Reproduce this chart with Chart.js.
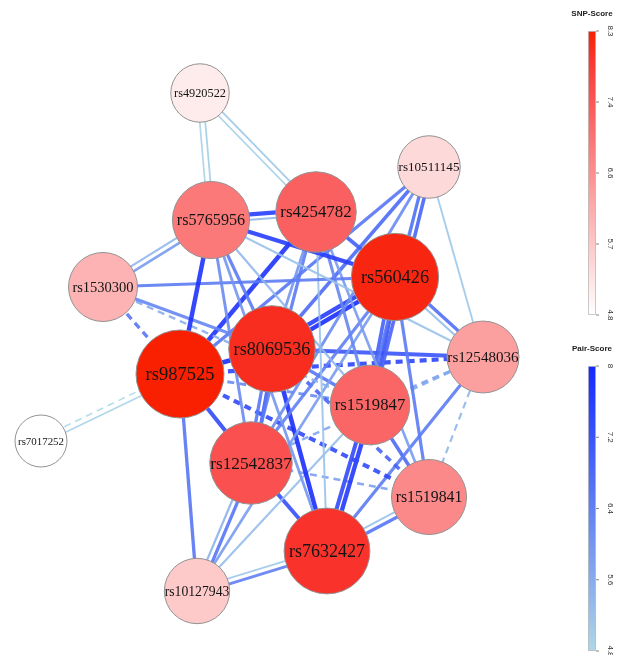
<!DOCTYPE html>
<html><head><meta charset="utf-8">
<script src="https://cdn.jsdelivr.net/npm/chart.js@4.4.1/dist/chart.umd.min.js"></script>
<style>
html,body{margin:0;padding:0;background:#fff;}
#wrap{position:relative;width:620px;height:655px;overflow:hidden;}
#main{position:absolute;left:0;top:0;}
#snp{position:absolute;left:560px;top:0;}
#pair{position:absolute;left:560px;top:330px;}
</style></head><body>
<div id="wrap">
<canvas id="main" width="620" height="655"></canvas>
<canvas id="snp" width="60" height="330"></canvas>
<canvas id="pair" width="60" height="325"></canvas>
</div>
<script>
// ---- nodes (SNPs) ----
const snps     = ['rs4920522','rs5765956','rs4254782','rs10511145','rs1530300','rs560426','rs8069536','rs987525','rs12548036','rs1519847','rs7017252','rs12542837','rs1519841','rs7632427','rs10127943'];
const layoutX  = [200, 211, 316, 429, 103, 395, 272, 180, 483, 370,  41, 251, 429, 327, 197];
const layoutY  = [ 93, 220, 212, 167, 287, 277, 349, 374, 357, 405, 441, 463, 497, 551, 591];
const snpScore = [5.1, 6.9, 7.3, 5.4, 6.0, 8.2, 8.1, 8.3, 6.3, 7.2, 4.8, 7.55, 6.65, 8.0, 5.65];

// ---- edges (SNP pairs) ----
const edgeFrom = ['rs4920522','rs4920522','rs4920522','rs4920522','rs5765956','rs5765956','rs5765956','rs5765956','rs5765956','rs5765956','rs5765956','rs5765956','rs5765956','rs5765956','rs5765956',
 'rs1530300','rs1530300','rs1530300','rs1530300',
 'rs4254782','rs4254782','rs4254782','rs4254782','rs4254782','rs4254782','rs4254782',
 'rs10511145','rs10511145','rs10511145','rs10511145','rs10511145','rs10511145','rs10511145',
 'rs560426','rs560426','rs560426','rs560426','rs560426','rs560426','rs560426','rs560426','rs560426',
 'rs8069536','rs8069536','rs8069536','rs8069536','rs8069536','rs8069536','rs8069536',
 'rs987525','rs987525','rs987525','rs987525','rs987525','rs987525','rs987525',
 'rs12548036','rs12548036','rs12548036','rs12548036',
 'rs1519847','rs1519847','rs1519847','rs1519847',
 'rs12542837','rs12542837','rs12542837','rs12542837',
 'rs1519841','rs1519841','rs7632427','rs7632427'];
const edgeTo = ['rs5765956','rs5765956','rs4254782','rs4254782','rs4254782','rs4254782','rs1530300','rs1530300','rs987525','rs560426','rs8069536','rs12542837','rs7632427','rs12548036','rs1519847',
 'rs560426','rs8069536','rs1519847','rs987525',
 'rs560426','rs987525','rs8069536','rs12542837','rs1519847','rs1519841','rs7632427',
 'rs8069536','rs987525','rs12542837','rs1519847','rs1519847','rs560426','rs12548036',
 'rs8069536','rs8069536','rs12548036','rs12548036','rs1519847','rs1519847','rs1519841','rs12542837','rs10127943',
 'rs987525','rs12548036','rs1519847','rs12542837','rs12542837','rs7632427','rs1519841',
 'rs12548036','rs7017252','rs7017252','rs12542837','rs10127943','rs1519841','rs1519847',
 'rs7632427','rs1519841','rs12542837','rs1519847',
 'rs7632427','rs7632427','rs1519841','rs10127943',
 'rs1519841','rs7632427','rs10127943','rs10127943',
 'rs7632427','rs7632427','rs10127943','rs10127943'];
const pairScore = [5.0,4.9,5.1,4.9,7.6,5.4,5.9,5.4,7.8,7.6,6.5,6.2,6.0,5.2,5.4,
 6.5,6.3,5.6,6.6,
 7.0,7.8,6.0,6.5,6.3,5.9,5.2,
 6.8,6.6,6.2,6.9,6.6,5.2,5.1,
 7.9,7.6,6.7,5.3,7.3,7.0,6.5,6.4,5.9,
 7.9,7.2,6.6,7.0,6.6,7.9,6.9,
 7.5,4.9,4.8,7.4,6.6,7.4,6.2,
 6.5,5.4,5.7,5.8,
 7.7,7.4,6.8,5.3,
 5.8,7.3,6.6,5.5,
 6.6,5.2,6.4,5.1];
const edgeDashed = [0,0,0,0,0,0,0,0,0,0,0,0,0,0,0,
 0,0,1,1,
 0,0,0,0,0,0,0,
 0,0,0,0,0,0,0,
 0,0,0,0,0,0,0,0,0,
 0,0,0,0,0,0,1,
 1,0,1,0,0,1,1,
 0,1,1,1,
 0,0,0,0,
 1,0,0,0,
 0,0,0,0];

// ---- colour bar ticks ----
const snpRange = [4.8, 8.3];
const snpTickLabels = ['4.8','5.7','6.6','7.4','8.3'];
const pairRange = [4.8, 8.0];
const pairTickLabels = ['4.8','5.6','6.4','7.2','8'];

// ---- styling helpers ----
function snpRGB(t){
  const r = Math.round(255 - 7*t), g = Math.round(255 - 223*t);
  const b = Math.round(g * (1 - Math.pow(t, 20)));
  return [r,g,b];
}
function snpColor(s){
  const c = snpRGB((s - snpRange[0]) / (snpRange[1] - snpRange[0]));
  return 'rgb(' + c.join(',') + ')';
}
function pairColor(s, a){
  const t = (s - pairRange[0]) / (pairRange[1] - pairRange[0]);
  const r = Math.round(173 + (20-173)*t), g = Math.round(216 + (40-216)*t), b = Math.round(230 + (255-230)*t);
  return 'rgba(' + r + ',' + g + ',' + b + ',' + a + ')';
}
function nodeRadius(s){ return 26 + 18*Math.pow((s - snpRange[0])/(snpRange[1]-snpRange[0]), 0.7); }
function edgeWidth(s){ return 1.6 + (s - pairRange[0]) * 0.95; }

// ---- build datasets ----
const idx = {}; snps.forEach((n,i)=>idx[n]=i);
const pairCount = {}, pairSeen = {};
edgeFrom.forEach((f,i)=>{ const k=[f,edgeTo[i]].sort().join('|'); pairCount[k]=(pairCount[k]||0)+1; });
const edgeSets = edgeFrom.map((f,i)=>{
  const a = idx[f], b = idx[edgeTo[i]];
  const k=[f,edgeTo[i]].sort().join('|');
  const n = pairCount[k]; const j = pairSeen[k]||0; pairSeen[k]=j+1;
  const off = (j - (n-1)/2) * 5.5;
  const dx = layoutX[b]-layoutX[a], dy = layoutY[b]-layoutY[a], L = Math.hypot(dx,dy);
  const px = -dy/L*off, py = dx/L*off;
  return {
    type:'line',
    data:[{x:layoutX[a]+px, y:layoutY[a]+py},{x:layoutX[b]+px, y:layoutY[b]+py}],
    borderColor: pairColor(pairScore[i], 0.9),
    borderWidth: edgeWidth(pairScore[i]),
    borderDash: edgeDashed[i] ? [7,5] : [],
    borderCapStyle:'butt',
    pointRadius:0, fill:false, tension:0, order:1
  };
});
const nodeSet = {
  type:'bubble',
  data: snps.map((n,i)=>({x:layoutX[i], y:layoutY[i], r:nodeRadius(snpScore[i])})),
  backgroundColor: snpScore.map(snpColor),
  borderColor:'#929292', borderWidth:1, hoverRadius:0, order:0
};

const labelPlugin = {
  id:'nodeLabels',
  afterDatasetsDraw(chart){
    const meta = chart.getDatasetMeta(0);
    const ctx = chart.ctx;
    ctx.save();
    ctx.textAlign='center'; ctx.textBaseline='middle'; ctx.fillStyle='#141414';
    meta.data.forEach((el,i)=>{
      const r = nodeRadius(snpScore[i]);
      ctx.font = (0.42*r).toFixed(1) + 'px "Liberation Serif", "DejaVu Serif", serif';
      ctx.fillText(snps[i], el.x, el.y + 1);
    });
    ctx.restore();
  }
};

new Chart(document.getElementById('main'), {
  type:'bubble',
  data:{ datasets:[nodeSet, ...edgeSets] },
  options:{
    responsive:false, animation:false, events:[],
    layout:{padding:0, autoPadding:false},
    plugins:{legend:{display:false}, tooltip:{enabled:false}},
    scales:{
      x:{type:'linear', min:0, max:620, display:false},
      y:{type:'linear', min:0, max:655, reverse:true, display:false}
    }
  },
  plugins:[labelPlugin]
});

// ---- colour bars ----
function colorBar(canvasId, range, tickLabels, title, stops, pad){
  const barPlugin = {
    id:'barDecor',
    afterDraw(chart){
      const ctx = chart.ctx, ys = chart.scales.y, area = chart.chartArea;
      ctx.save();
      ctx.strokeStyle='#bdbdbd'; ctx.lineWidth=0.8;
      ctx.strokeRect(area.left+0.5, area.top+0.5, area.right-area.left-1, area.bottom-area.top-1);
      ctx.fillStyle='#222'; ctx.font='bold 8px "Liberation Sans", Arial, sans-serif';
      ctx.textAlign='center'; ctx.textBaseline='middle';
      ctx.fillText(title, (area.left+area.right)/2, pad.titleY);
      ctx.font='8px "Liberation Sans", Arial, sans-serif'; ctx.fillStyle='#333';
      const n = tickLabels.length;
      tickLabels.forEach((lab,k)=>{
        const v = range[0] + (range[1]-range[0])*k/(n-1);
        const yy = ys.getPixelForValue(v);
        ctx.strokeStyle='#666'; ctx.lineWidth=0.8;
        ctx.beginPath(); ctx.moveTo(area.right, yy); ctx.lineTo(area.right+3, yy); ctx.stroke();
        ctx.save(); ctx.translate(area.right+14, yy); ctx.rotate(Math.PI/2);
        ctx.fillText(lab, 0, 0); ctx.restore();
      });
      ctx.restore();
    }
  };
  new Chart(document.getElementById(canvasId), {
    type:'bar',
    data:{ labels:[''], datasets:[{
      data:[[range[0], range[1]]],
      barPercentage:1, categoryPercentage:1, borderWidth:0,
      backgroundColor(c){
        const a = c.chart.chartArea; if(!a) return stops(0);
        const g = c.chart.ctx.createLinearGradient(0, a.bottom, 0, a.top);
        for (let k=0;k<=10;k++) g.addColorStop(k/10, stops(k/10));
        return g;
      }
    }]},
    options:{
      responsive:false, animation:false, events:[],
      layout:{padding:{left:pad.left, right:pad.right, top:pad.top, bottom:pad.bottom}, autoPadding:false},
      plugins:{legend:{display:false}, tooltip:{enabled:false}},
      scales:{ x:{display:false}, y:{display:false, min:range[0], max:range[1]} }
    },
    plugins:[barPlugin]
  });
}
colorBar('snp', snpRange, snpTickLabels, 'SNP-Score',
  t => snpColor(snpRange[0] + t*(snpRange[1]-snpRange[0])),
  {left:28,right:24,top:31,bottom:15,titleY:14});
colorBar('pair', pairRange, pairTickLabels, 'Pair-Score',
  t => pairColor(pairRange[0] + t*(pairRange[1]-pairRange[0]), 1),
  {left:28,right:24,top:36,bottom:4,titleY:19});
</script>
</body></html>
